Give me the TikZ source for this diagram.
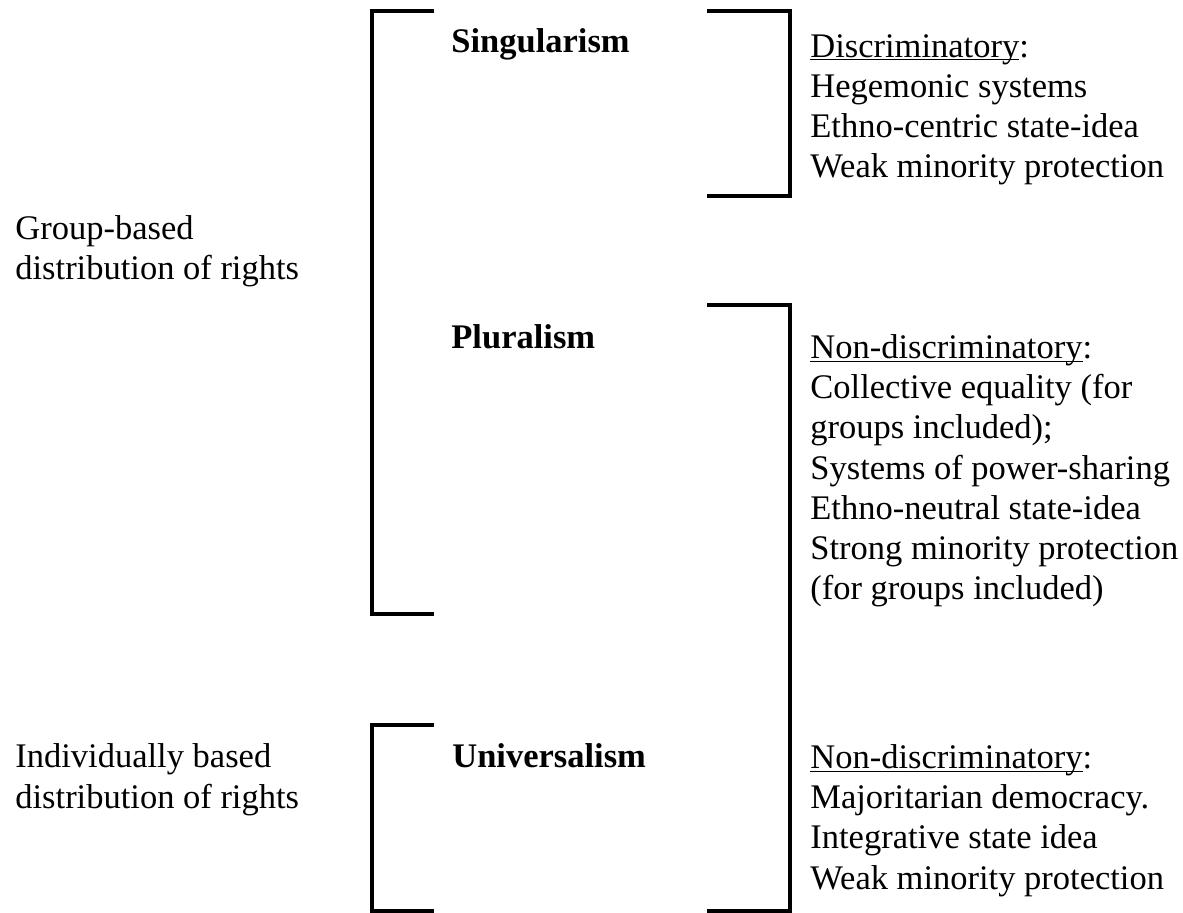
\documentclass[tikz,border=0pt]{standalone}
\usepackage{fontspec}
\setmainfont{Liberation Serif}

\tikzstyle{desc} = [anchor=base west, inner sep=0pt, align=left, font=\fontsize{17.25}{20.15}\selectfont]
\tikzstyle{concept} = [desc, font=\fontsize{17.25}{20.15}\selectfont\bfseries]
\tikzstyle{bracket} = [draw, line width=2.25pt, line cap=rect, line join=miter]
\newcommand{\pxunit}{0.5pt}
\newcommand{\ulword}[1]{\underline{\smash{#1}}}

\begin{document}
\begin{tikzpicture}[x=\pxunit, y=-\pxunit]
    \useasboundingbox (0,0) rectangle (1183,913);
    % Left column: how rights are distributed (placed at the last line)
    \node[desc] (group) at (15,280) {Group-based\\distribution of rights};
    \node[desc] (indiv) at (15,808) {Individually based\\distribution of rights};
    % Middle column: the three principles
    \foreach \pos/\name/\text in {{(451,53)/sing/Singularism}, {(451,349)/plur/Pluralism}, {(452,768)/univ/Universalism}}
        \node[concept] (\name) at \pos {\text};
    % Right column: what each principle means
    \node[desc] (discr) at (810,178) {\ulword{Discriminatory}:\\Hegemonic systems\\Ethno-centric state-idea\\Weak minority protection};
    \node[desc] (nondiscA) at (810,600) {\ulword{Non-discriminatory}:\\Collective equality (for\\groups included);\\Systems of power-sharing\\Ethno-neutral state-idea\\Strong minority protection\\(for groups included)};
    \node[desc] (nondiscB) at (810,889) {\ulword{Non-discriminatory}:\\Majoritarian democracy.\\Integrative state idea\\Weak minority protection};
    % Brackets
    \foreach \xa/\xb/\ya/\yb in {432/372/11/614, 432/372/725/911, 709/790/11/196, 709/790/305/911}
        \path[bracket] (\xa,\ya) -- (\xb,\ya) -- (\xb,\yb) -- (\xa,\yb);
\end{tikzpicture}
\end{document}
